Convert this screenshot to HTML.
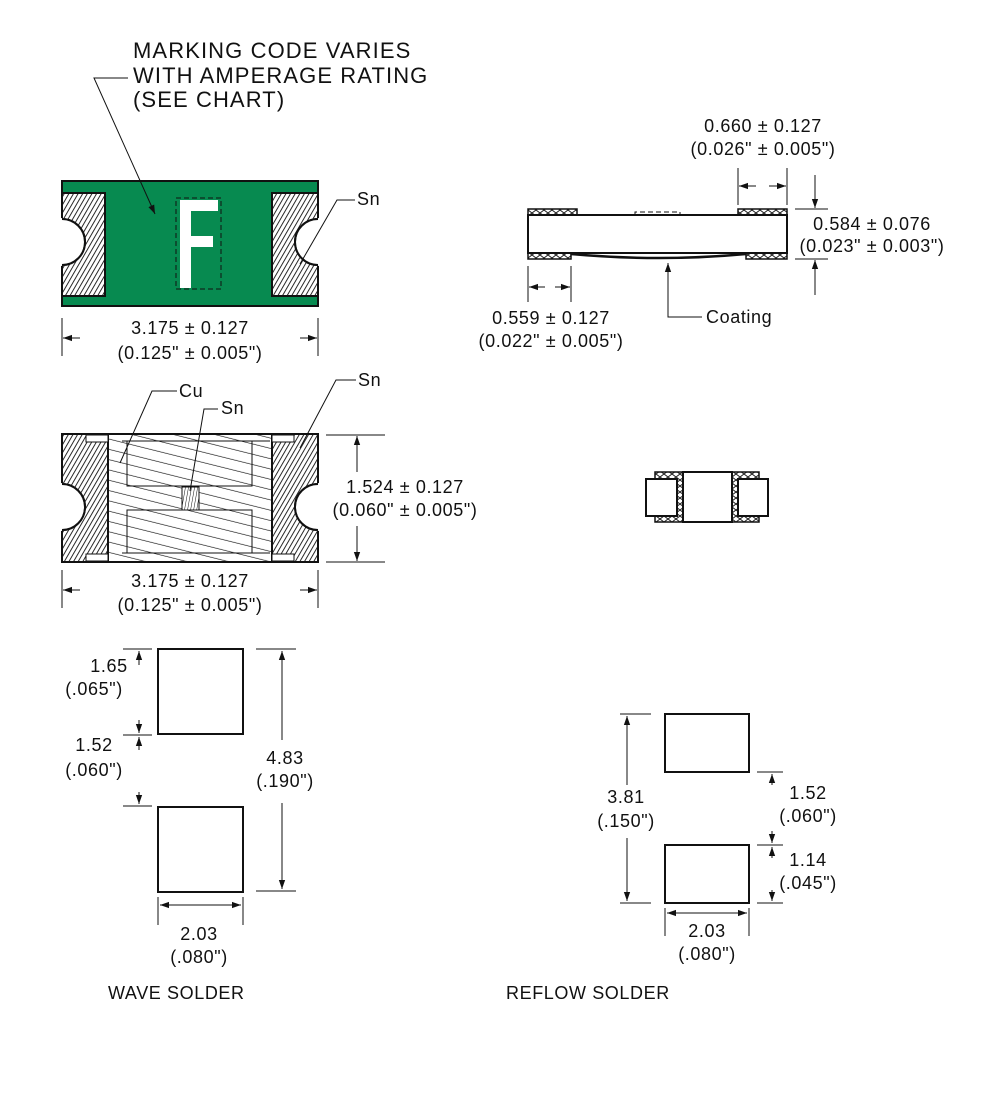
<!DOCTYPE html>
<html><head><meta charset="utf-8"><style>
html,body{margin:0;padding:0;background:#fff}
svg{display:block}
text{font-family:"Liberation Sans",sans-serif;font-size:18px;letter-spacing:0.6px;fill:#111}
text.t{font-size:22px;letter-spacing:1.1px}
</style></head><body>
<svg width="983" height="1112" viewBox="0 0 983 1112" xmlns="http://www.w3.org/2000/svg">
<defs>
<pattern id="h" patternUnits="userSpaceOnUse" width="4" height="4" patternTransform="rotate(30)">
<rect width="4" height="4" fill="#fff"/><line x1="0" y1="0" x2="0" y2="4" stroke="#111" stroke-width="1.8"/></pattern>
<pattern id="d" patternUnits="userSpaceOnUse" width="10" height="10" patternTransform="rotate(-76)">
<rect width="10" height="10" fill="#fff"/><line x1="0" y1="0" x2="0" y2="10" stroke="#111" stroke-width="1.3"/></pattern>
<pattern id="v" patternUnits="userSpaceOnUse" width="3" height="3" patternTransform="rotate(10)">
<rect width="3" height="3" fill="#fff"/><line x1="0" y1="0" x2="0" y2="3" stroke="#111" stroke-width="1"/></pattern>
<pattern id="x" patternUnits="userSpaceOnUse" width="8" height="6">
<rect width="8" height="6" fill="#fff"/><path d="M0 0L8 6M0 6L8 0" stroke="#222" stroke-width="1"/></pattern>
<marker id="a" viewBox="0 0 10 10" refX="10" refY="5" markerWidth="9" markerHeight="9" orient="auto" markerUnits="userSpaceOnUse"><path d="M0 1.5L10 5L0 8.5z" fill="#111"/></marker>
</defs>
<g stroke="#111" fill="none" stroke-width="1">

<!-- title -->
<text class="t" x="133" y="58" stroke="none">MARKING CODE VARIES</text>
<text class="t" x="133" y="83" stroke="none">WITH AMPERAGE RATING</text>
<text class="t" x="133" y="107" stroke="none">(SEE CHART)</text>

<!-- top-left green component -->
<rect x="62" y="181" width="256" height="125" fill="#078a50" stroke="#111" stroke-width="2"/>
<path d="M62 193H105V296H62V265A23 23 0 0 0 62 219Z" fill="url(#h)" stroke="#111" stroke-width="2"/>
<path d="M318 193H272V296H318V265A23 23 0 0 1 318 219Z" fill="url(#h)" stroke="#111" stroke-width="2"/>
<path d="M60 218A24 24 0 0 1 60 266Z" fill="#fff" stroke="none"/>
<path d="M320 218A24 24 0 0 0 320 266Z" fill="#fff" stroke="none"/>
<path d="M62 219A23 23 0 0 1 62 265M318 219A23 23 0 0 0 318 265" stroke-width="2"/>
<rect x="176" y="198" width="45" height="91" stroke-dasharray="5 3" stroke="#111"/>
<path d="M180 200H218V211H191V236H213V247H191V288H180Z" fill="#fff" stroke="none"/>
<path d="M128 78H94L155 214" marker-end="url(#a)"/>
<path d="M355 200H337L300 264" />
<text x="357" y="205" stroke="none">Sn</text>
<path d="M62 318V356M318 318V356"/>
<path d="M80 338H63" marker-end="url(#a)"/><path d="M300 338H317" marker-end="url(#a)"/>
<text x="190" y="334" text-anchor="middle" stroke="none">3.175 ± 0.127</text>
<text x="190" y="359" text-anchor="middle" stroke="none">(0.125" ± 0.005")</text>

<!-- middle-left component -->
<rect x="108" y="434" width="164" height="128" fill="url(#d)" stroke="#111" stroke-width="2"/>
<path d="M127 441H252V486H127Z" stroke="#111"/>
<path d="M127 510H252V553H127Z" stroke="#111"/>
<path d="M122 441H127M252 441H270M122 553H127M252 553H270" />
<rect x="182" y="487" width="17" height="23" fill="url(#v)" stroke="#111"/>
<path d="M62 434H108V562H62V530A23 23 0 0 0 62 484Z" fill="url(#h)" stroke="#111" stroke-width="2"/>
<path d="M318 434H272V562H318V530A23 23 0 0 1 318 484Z" fill="url(#h)" stroke="#111" stroke-width="2"/>
<path d="M60 483A24 24 0 0 1 60 531Z" fill="#fff" stroke="none"/>
<path d="M320 483A24 24 0 0 0 320 531Z" fill="#fff" stroke="none"/>
<path d="M62 484A23 23 0 0 1 62 530M318 484A23 23 0 0 0 318 530" stroke-width="2"/>
<rect x="86" y="435" width="22" height="7" fill="#fff" stroke="#111"/>
<rect x="86" y="554" width="22" height="7" fill="#fff" stroke="#111"/>
<rect x="272" y="435" width="22" height="7" fill="#fff" stroke="#111"/>
<rect x="272" y="554" width="22" height="7" fill="#fff" stroke="#111"/>
<path d="M177 391H152L120 463"/>
<text x="179" y="397" stroke="none">Cu</text>
<path d="M218 409H204L190 491"/>
<text x="221" y="414" stroke="none">Sn</text>
<path d="M356 380H336L300 448"/>
<text x="358" y="386" stroke="none">Sn</text>
<path d="M326 435H385M326 562H385"/>
<path d="M357 472V436" marker-end="url(#a)"/><path d="M357 526V561" marker-end="url(#a)"/>
<text x="405" y="493" text-anchor="middle" stroke="none">1.524 ± 0.127</text>
<text x="405" y="516" text-anchor="middle" stroke="none">(0.060" ± 0.005")</text>
<path d="M62 570V608M318 570V608"/>
<path d="M80 590H63" marker-end="url(#a)"/><path d="M300 590H317" marker-end="url(#a)"/>
<text x="190" y="587" text-anchor="middle" stroke="none">3.175 ± 0.127</text>
<text x="190" y="611" text-anchor="middle" stroke="none">(0.125" ± 0.005")</text>

<!-- top-right side view -->
<rect x="528" y="209" width="49" height="6" fill="url(#x)" stroke="#111" stroke-width="1.5"/>
<rect x="738" y="209" width="49" height="6" fill="url(#x)" stroke="#111" stroke-width="1.5"/>
<rect x="528" y="253" width="43" height="6" fill="url(#x)" stroke="#111" stroke-width="1.5"/>
<rect x="746" y="253" width="41" height="6" fill="url(#x)" stroke="#111" stroke-width="1.5"/>
<rect x="528" y="215" width="259" height="38" fill="#fff" stroke="#111" stroke-width="2"/>
<path d="M571 254Q660 262 746 254" stroke-width="2.5"/>
<path d="M635 215V212H680V215" stroke-dasharray="5 3"/>
<path d="M738 168V205M787 168V205"/>
<path d="M756 186H739" marker-end="url(#a)"/><path d="M769 186H786" marker-end="url(#a)"/>
<text x="763" y="132" text-anchor="middle" stroke="none">0.660 ± 0.127</text>
<text x="763" y="155" text-anchor="middle" stroke="none">(0.026" ± 0.005")</text>
<path d="M795 209H828M795 259H828"/>
<path d="M815 175V208" marker-end="url(#a)"/><path d="M815 295V260" marker-end="url(#a)"/>
<text x="872" y="230" text-anchor="middle" stroke="none">0.584 ± 0.076</text>
<text x="872" y="252" text-anchor="middle" stroke="none">(0.023" ± 0.003")</text>
<path d="M528 266V302M571 266V302"/>
<path d="M545 287H529" marker-end="url(#a)"/><path d="M555 287H570" marker-end="url(#a)"/>
<text x="551" y="324" text-anchor="middle" stroke="none">0.559 ± 0.127</text>
<text x="551" y="347" text-anchor="middle" stroke="none">(0.022" ± 0.005")</text>
<path d="M702 317H668V263" marker-end="url(#a)"/>
<text x="706" y="323" stroke="none">Coating</text>

<!-- small component -->
<rect x="655" y="472" width="104" height="50" fill="url(#x)" stroke="#111" stroke-width="1.5"/>
<rect x="646" y="479" width="31" height="37" fill="#fff" stroke="#111" stroke-width="2"/>
<rect x="738" y="479" width="30" height="37" fill="#fff" stroke="#111" stroke-width="2"/>
<rect x="683" y="472" width="49" height="50" fill="#fff" stroke="#111" stroke-width="2"/>

<!-- wave solder -->
<rect x="158" y="649" width="85" height="85" stroke-width="2"/>
<rect x="158" y="807" width="85" height="85" stroke-width="2"/>
<path d="M123 649H152M123 735H152M123 806H152M256 649H296M256 891H296"/>
<path d="M139 665V651" marker-end="url(#a)"/><path d="M139 720V733" marker-end="url(#a)"/>
<path d="M139 750V737" marker-end="url(#a)"/><path d="M139 792V804" marker-end="url(#a)"/>
<path d="M282 740V651" marker-end="url(#a)"/><path d="M282 803V889" marker-end="url(#a)"/>
<path d="M158 897V925M243 897V925"/>
<path d="M200 905H160" marker-end="url(#a)"/><path d="M200 905H241" marker-end="url(#a)"/>
<text x="109" y="672" text-anchor="middle" stroke="none">1.65</text>
<text x="94" y="695" text-anchor="middle" stroke="none">(.065")</text>
<text x="94" y="751" text-anchor="middle" stroke="none">1.52</text>
<text x="94" y="776" text-anchor="middle" stroke="none">(.060")</text>
<text x="285" y="764" text-anchor="middle" stroke="none">4.83</text>
<text x="285" y="787" text-anchor="middle" stroke="none">(.190")</text>
<text x="199" y="940" text-anchor="middle" stroke="none">2.03</text>
<text x="199" y="963" text-anchor="middle" stroke="none">(.080")</text>
<text x="108" y="999" stroke="none">WAVE SOLDER</text>

<!-- reflow solder -->
<rect x="665" y="714" width="84" height="58" stroke-width="2"/>
<rect x="665" y="845" width="84" height="58" stroke-width="2"/>
<path d="M620 714H651M620 903H651M757 772H783M757 845H783M757 903H783"/>
<path d="M627 785V716" marker-end="url(#a)"/><path d="M627 838V901" marker-end="url(#a)"/>
<path d="M772 785V774" marker-end="url(#a)"/><path d="M772 831V843" marker-end="url(#a)"/>
<path d="M772 858V847" marker-end="url(#a)"/><path d="M772 890V901" marker-end="url(#a)"/>
<path d="M665 908V936M749 908V936"/>
<path d="M707 913H667" marker-end="url(#a)"/><path d="M707 913H747" marker-end="url(#a)"/>
<text x="626" y="803" text-anchor="middle" stroke="none">3.81</text>
<text x="626" y="827" text-anchor="middle" stroke="none">(.150")</text>
<text x="808" y="799" text-anchor="middle" stroke="none">1.52</text>
<text x="808" y="822" text-anchor="middle" stroke="none">(.060")</text>
<text x="808" y="866" text-anchor="middle" stroke="none">1.14</text>
<text x="808" y="889" text-anchor="middle" stroke="none">(.045")</text>
<text x="707" y="937" text-anchor="middle" stroke="none">2.03</text>
<text x="707" y="960" text-anchor="middle" stroke="none">(.080")</text>
<text x="506" y="999" stroke="none">REFLOW SOLDER</text>
</g>
</svg>
</body></html>
